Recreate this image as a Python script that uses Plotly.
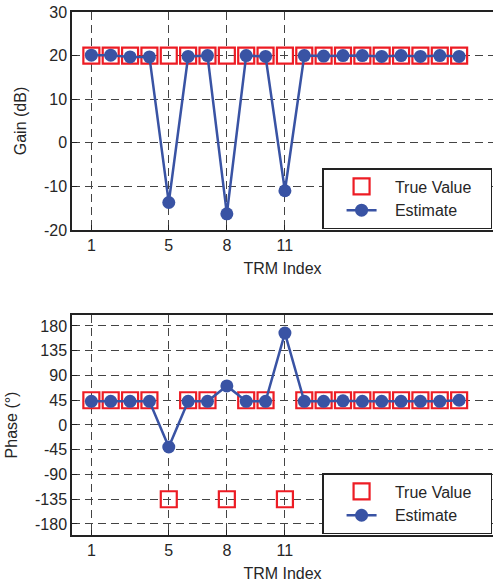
import plotly.graph_objects as go

trm_index = [1, 2, 3, 4, 5, 6, 7, 8, 9, 10, 11, 12, 13, 14, 15, 16, 17, 18, 19, 20]
gain_true = [20, 20, 20, 20, 20, 20, 20, 20, 20, 20, 20, 20, 20, 20, 20, 20, 20, 20, 20, 20]
gain_est = [20.1, 20.1, 19.7, 19.7, -13.7, 19.8, 20.0, -16.3, 20.0, 19.8, -11.0, 20.0, 19.9, 20.0, 20.0, 19.8, 20.0, 19.8, 20.0, 19.8]
phase_true = [45, 45, 45, 45, -135, 45, 45, -135, 45, 45, -135, 45, 45, 45, 45, 45, 45, 45, 45, 45]
phase_est = [43, 43, 43, 43, -40, 43, 43, 71, 43, 43, 167, 43, 43, 44, 43, 43, 43, 43, 43, 45]

x_ticks = [1, 5, 8, 11]
gain_ticks = [-20, -10, 0, 10, 20, 30]
gain_labels = ["-20", "-10", "0", "10", "20", "30"]
phase_ticks = [-180, -135, -90, -45, 0, 45, 90, 135, 180]
phase_labels = ["-180", "-135", "-90", "-45", "0", "45", "90", "135", "180"]

RED = "#ED1C24"
BLUE = "#3953A4"
TXT = "#262626"
FONT = "Liberation Sans, Arial, sans-serif"
NB = "\u00a0"

fig = go.Figure()

sq = dict(symbol="square-open", size=16, color=RED, line=dict(width=2.2, color=RED))
dot = dict(symbol="circle", size=13, color=BLUE)

true_name = NB * 3 + "True Value" + NB * 3
est_name = NB * 3 + "Estimate"

fig.add_trace(go.Scatter(x=trm_index, y=gain_true, mode="markers", marker=sq,
                         name=true_name, xaxis="x", yaxis="y", legend="legend"))
fig.add_trace(go.Scatter(x=trm_index, y=gain_est, mode="lines+markers", marker=dot,
                         line=dict(color=BLUE, width=2.5), name=est_name,
                         xaxis="x", yaxis="y", legend="legend"))
fig.add_trace(go.Scatter(x=trm_index, y=phase_true, mode="markers", marker=sq,
                         name=true_name, xaxis="x2", yaxis="y2", legend="legend2"))
fig.add_trace(go.Scatter(x=trm_index, y=phase_est, mode="lines+markers", marker=dot,
                         line=dict(color=BLUE, width=2.5), name=est_name,
                         xaxis="x2", yaxis="y2", legend="legend2"))

axis_common = dict(
    showline=True, linecolor="#222", linewidth=1.5, mirror=True,
    ticks="inside", ticklen=5, tickcolor="#222",
    showgrid=True, gridcolor="#444", griddash="8px,5px", gridwidth=1,
    zeroline=False, automargin=False,
    tickfont=dict(family=FONT, size=16, color=TXT),
    title_font=dict(family=FONT, size=16, color=TXT),
)

xr = [0, 21.75]

leg_common = dict(
    font=dict(family=FONT, size=16, color=TXT),
    bgcolor="white", bordercolor="#222", borderwidth=1.5,
    xanchor="left", yanchor="top", tracegroupgap=0, indentation=18,
)

fig.update_layout(
    width=493, height=584,
    margin=dict(l=72, r=0, t=12, b=49),
    paper_bgcolor="white", plot_bgcolor="white",
    showlegend=True,
    xaxis=dict(axis_common, domain=[0, 1], range=xr, tickvals=x_ticks,
               title=dict(text="TRM Index", standoff=10), anchor="y"),
    yaxis=dict(axis_common, domain=[0.5832, 1.0], range=[-20, 30], tickvals=gain_ticks,
               ticktext=gain_labels,
               title=dict(text="Gain (dB)", standoff=13), anchor="x"),
    xaxis2=dict(axis_common, domain=[0, 1], range=xr, tickvals=x_ticks,
                title=dict(text="TRM Index", standoff=10), anchor="y2"),
    yaxis2=dict(axis_common, domain=[0.0, 0.4207], range=[-200, 200], tickvals=phase_ticks,
                ticktext=phase_labels,
                title=dict(text="Phase (°)", standoff=13), anchor="x2"),
    legend=dict(leg_common, x=0.594, y=0.7017),
    legend2=dict(leg_common, x=0.594, y=0.1185),
)

fig.write_html("out.html", config={"displayModeBar": False},
               post_script="document.body.style.margin='0';")
